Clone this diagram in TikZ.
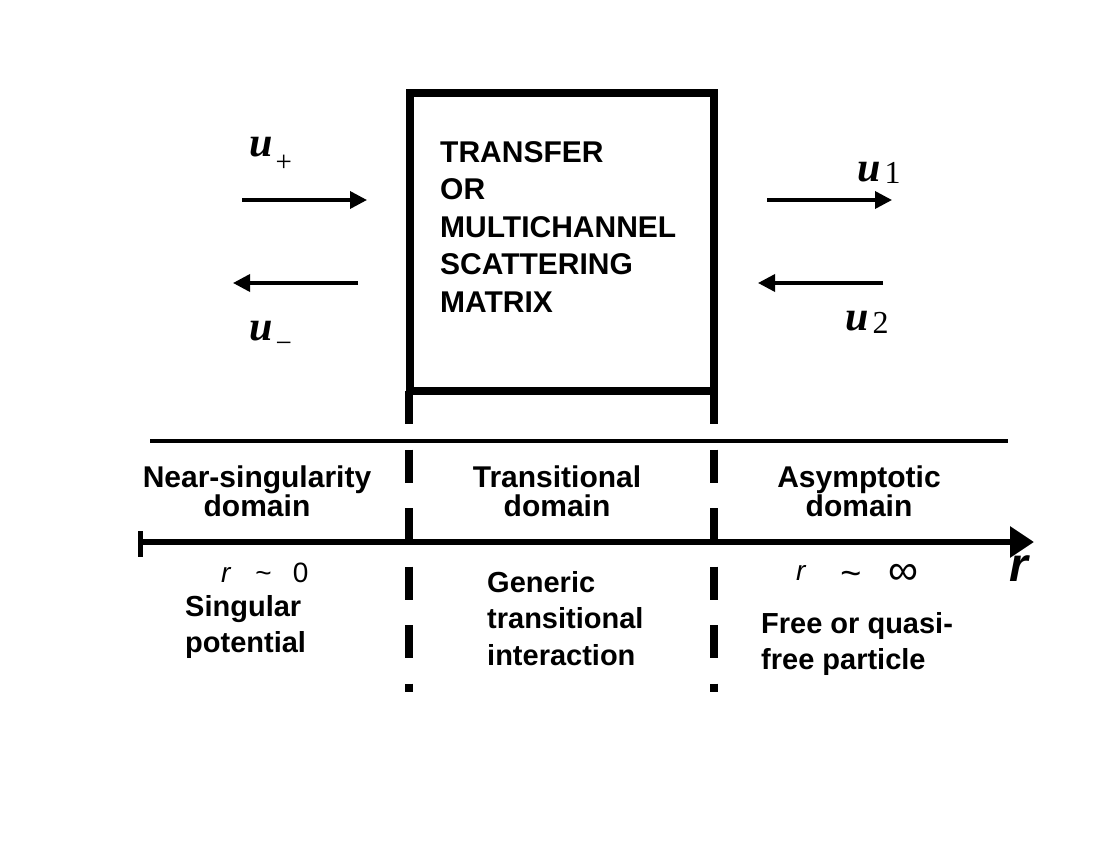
\documentclass[tikz,border=0pt]{standalone}
\usepackage{fontspec}
\setmainfont{Liberation Sans}
\newfontfamily\ufont{Liberation Serif}
\usetikzlibrary{arrows.meta}
\newcommand{\tightlines}{\setlength{\lineskiplimit}{-50pt}}
\begin{document}
\begin{tikzpicture}[x=1pt,y=-1pt,
  boxtext/.style={font=\fontsize{30}{37.5}\selectfont\bfseries, align=left, inner sep=0, anchor=north west},
  dom/.style={font={\fontsize{30}{29}\selectfont\bfseries\tightlines}, align=center, inner sep=0, anchor=north},
  desc/.style={font=\fontsize{29}{36.5}\selectfont\bfseries, align=left, inner sep=0, anchor=north west},
  rlab/.style={font=\fontsize{28}{28}\selectfont, inner sep=0, anchor=base west},
  ulab/.style={font=\fontsize{42}{42}\selectfont\ufont\bfseries\itshape, inner sep=0, anchor=base west},
  sarrow/.style={line width=3.5, -{Triangle[length=17pt,width=17pt]}},
  divider/.style={line width=7.5, dash pattern=on 33pt off 25.5pt},
]
\useasboundingbox (0,0) rectangle (1100,850);
\newcommand{\subs}[4]{\hspace{#3pt}\raisebox{-#2pt}{\fontsize{#4}{#4}\selectfont\upshape\mdseries #1}}

% matrix box
\node[draw, line width=8, minimum width=304, minimum height=298, inner sep=0, outer sep=0] (box) at (561.5,242) {};
\node[boxtext] (boxlabel) at (440,141) {TRANSFER\\OR\\MULTICHANNEL\\SCATTERING\\MATRIX};

% arrows left
\coordinate (lt1) at (242,200); \coordinate (lt2) at (367,200);
\coordinate (lb1) at (358,283); \coordinate (lb2) at (233,283);
\draw[sarrow] (lt1) -- (lt2);
\draw[sarrow] (lb1) -- (lb2);
\node[ulab] (uplus) at (249,157) {u\subs{+}{15}{3}{29}};
\node[ulab] (uminus) at (249,340) {u\subs{\char"2212}{13}{3}{29}};

% arrows right
\coordinate (rt1) at (767,200); \coordinate (rt2) at (892,200);
\coordinate (rb1) at (883,283); \coordinate (rb2) at (758,283);
\draw[sarrow] (rt1) -- (rt2);
\draw[sarrow] (rb1) -- (rb2);
\node[ulab] (uone) at (857,182) {u\subs{1}{2}{4}{32}};
\node[ulab] (utwo) at (845,330) {u\subs{2}{3}{4}{32}};

% dashed dividers
\coordinate (bl) at (409,391); \coordinate (br) at (714,391);
\coordinate (dl) at (409,692); \coordinate (dr) at (714,692);
\draw[divider] (bl) -- (dl);
\draw[divider] (br) -- (dr);

% separator line
\coordinate (s1) at (150,441); \coordinate (s2) at (1008,441);
\draw[line width=3.5] (s1) -- (s2);

% axis
\coordinate (a0) at (140,542); \coordinate (a1) at (1034,542);
\coordinate (t0) at (140,531); \coordinate (t1) at (140,557);
\draw[line width=6.5, -{Triangle[length=24pt,width=30pt]}] (a0) -- (a1);
\draw[line width=5] (t0) -- (t1);
\node[font=\fontsize{48}{48}\selectfont\bfseries\itshape, inner sep=0, anchor=base west] (rbig) at (1009,581) {r};

% domain labels
\node[dom] (d1) at (257,466) {Near-singularity\\domain};
\node[dom] (d2) at (557,466) {Transitional\\domain};
\node[dom] (d3) at (859,466) {Asymptotic\\domain};

% r ranges
\node[rlab] (r0) at (221,582) {\textit{r}\hspace{24pt}\textasciitilde\hspace{21pt}0};
\node[rlab] (rinf) at (796,580) {\textit{r}\hspace{34pt}\raisebox{-5pt}{\fontsize{36}{36}\selectfont\textasciitilde}\hspace{27pt}\raisebox{-4pt}{\fontsize{42}{42}\selectfont\char"221E}};

% descriptions
\node[desc] (dd1) at (185,595) {Singular\\potential};
\node[desc] (dd2) at (487,571) {Generic\\transitional\\interaction};
\node[desc] (dd3) at (761,612) {Free or quasi-\\free particle};
\end{tikzpicture}
\end{document}
